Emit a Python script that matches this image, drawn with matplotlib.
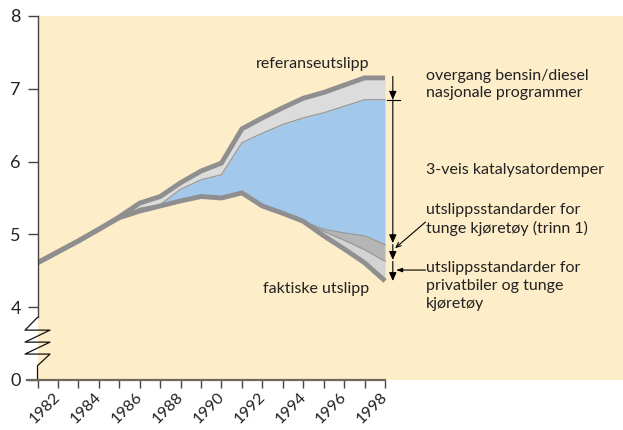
import numpy as np
import matplotlib.pyplot as plt
from matplotlib.transforms import ScaledTranslation

years = np.arange(1981, 1999)

# emission levels (y axis units, 0 is drawn at position 3)
referanse = [4.61, 4.76, 4.91, 5.07, 5.24, 5.43, 5.52, 5.71, 5.87, 5.98,
             6.45, 6.60, 6.74, 6.87, 6.95, 7.05, 7.15, 7.15]
etter_bensin = [4.61, 4.76, 4.91, 5.07, 5.23, 5.36, 5.41, 5.62, 5.75, 5.82,
                6.26, 6.39, 6.51, 6.60, 6.67, 6.76, 6.85, 6.85]
etter_katalysator = [4.61, 4.76, 4.91, 5.07, 5.23, 5.32, 5.39, 5.46, 5.52, 5.50,
                     5.57, 5.39, 5.29, 5.18, 5.07, 5.02, 4.98, 4.86]
etter_tunge = [4.61, 4.76, 4.91, 5.07, 5.23, 5.32, 5.39, 5.46, 5.52, 5.50,
               5.57, 5.39, 5.29, 5.18, 5.04, 4.92, 4.79, 4.63]
faktiske = [4.61, 4.76, 4.91, 5.07, 5.23, 5.32, 5.39, 5.46, 5.52, 5.50,
            5.57, 5.39, 5.29, 5.18, 4.98, 4.80, 4.61, 4.36]

ytick_pos = [3, 4, 5, 6, 7, 8]
ytick_labels = ['0', '4', '5', '6', '7', '8']
xlabel_years = list(range(1982, 1999, 2))

plt.rcParams['font.family'] = ['Lato', 'DejaVu Sans']
tan = '#fdedc9'
line_grey = '#8f8f8f'
txt = '#222222'

fig = plt.figure(figsize=(6.23, 4.30), dpi=100)
ax = fig.add_axes([0.0602, 0.1163, 0.9398, 0.8465])
ax.set_facecolor(tan)
ax.set_xlim(1981, 2009.64)
ax.set_ylim(3, 8)

ax.fill_between(years, etter_bensin, referanse, color='#dcdcdc', lw=0)
ax.fill_between(years, etter_katalysator, etter_bensin, color='#a2c8ec', lw=0)
ax.fill_between(years, etter_tunge, etter_katalysator, color='#b5b5b5', lw=0)
ax.fill_between(years, faktiske, etter_tunge, color='#d3d3d3', lw=0)
ax.plot(years, etter_bensin, color='#999999', lw=0.9)
ax.plot(years, etter_katalysator, color='#999999', lw=0.9)
ax.plot(years, etter_tunge, color='#999999', lw=0.9)
ax.plot(years, referanse, color=line_grey, lw=3.5, solid_capstyle='butt', solid_joinstyle='miter')
ax.plot(years, faktiske, color=line_grey, lw=3.5, solid_capstyle='butt', solid_joinstyle='miter')

# spines
for s in ['top', 'right', 'left']:
    ax.spines[s].set_visible(False)
ax.spines['bottom'].set_bounds(1980.5, 1998)
ax.spines['bottom'].set_color('#6e6a5c')
ax.spines['bottom'].set_linewidth(1.6)

# left axis with break
br = ax.get_yaxis_transform()
ax.plot([0, 0], [3.86, 8], color='#444444', lw=1, transform=br, clip_on=False)
zx = [0, -0.0213, 0.0213, -0.0213, 0.0213, -0.0213, 0.0213, 0, 0]
zy = [3.86, 3.685, 3.685, 3.52, 3.52, 3.356, 3.356, 3.196, 3.0]
ax.plot(zx, zy, color='#111111', lw=0.9, transform=br, clip_on=False)

ax.set_yticks(ytick_pos)
ax.set_yticklabels(ytick_labels)
ax.tick_params(axis='y', length=7, width=1, color='#444444', pad=5,
               labelsize=13, labelcolor=txt)
ax.set_xticks(years)
ax.set_xticklabels([str(y) if y in xlabel_years else '' for y in years],
                   rotation=45, ha='right', rotation_mode='default')
ax.tick_params(axis='x', length=5.5, width=1, color='#444444', pad=1.5,
               labelsize=11.5, labelcolor=txt)
shift = ScaledTranslation(4 / 72, 0, fig.dpi_scale_trans)
for lab in ax.get_xticklabels():
    lab.set_transform(lab.get_transform() + shift)

# arrows on the right
ap = dict(arrowstyle='-|>,head_length=0.5,head_width=0.22', color='black', lw=0.8,
          shrinkA=0, shrinkB=0)
xa = 1998.38
ax.annotate('', xy=(xa, 6.85), xytext=(xa, 7.17), arrowprops=ap)
ax.plot([1998.09, 1998.71], [6.85, 6.85], color='black', lw=0.8)
ax.annotate('', xy=(xa, 4.88), xytext=(xa, 6.85), arrowprops=ap)
ax.annotate('', xy=(xa, 4.65), xytext=(xa, 4.86), arrowprops=ap)
ax.annotate('', xy=(xa, 4.36), xytext=(xa, 4.63), arrowprops=ap)
ax.annotate('', xy=(1998.49, 4.81), xytext=(1999.98, 5.17),
            arrowprops=dict(arrowstyle='->,head_length=0.35,head_width=0.15', color='black',
                            lw=0.8, shrinkA=0, shrinkB=0))
ax.annotate('', xy=(1998.54, 4.51), xytext=(1999.98, 4.51),
            arrowprops=dict(arrowstyle='-|>,head_length=0.35,head_width=0.12', color='black',
                            lw=0.8, shrinkA=0, shrinkB=0))

fs = 11.5
ax.text(2000.0, 7.06, 'overgang bensin/diesel\nnasjonale programmer', fontsize=fs,
        color=txt, va='center', ha='left', linespacing=1.35)
ax.text(2000.0, 5.89, '3-veis katalysatordemper', fontsize=fs, color=txt, va='center', ha='left')
ax.text(2000.0, 5.205, 'utslippsstandarder for\ntunge kjøretøy (trinn 1)', fontsize=fs,
        color=txt, va='center', ha='left', linespacing=1.35)
ax.text(2000.0, 4.29, 'utslippsstandarder for\nprivatbiler og tunge\nkjøretøy', fontsize=fs,
        color=txt, va='center', ha='left', linespacing=1.35)
ax.text(1994.45, 7.34, 'referanseutslipp', fontsize=fs, color=txt, va='center', ha='center')
ax.text(1994.62, 4.25, 'faktiske utslipp', fontsize=fs, color=txt, va='center', ha='center')

fig.savefig('out.png', dpi=100)
